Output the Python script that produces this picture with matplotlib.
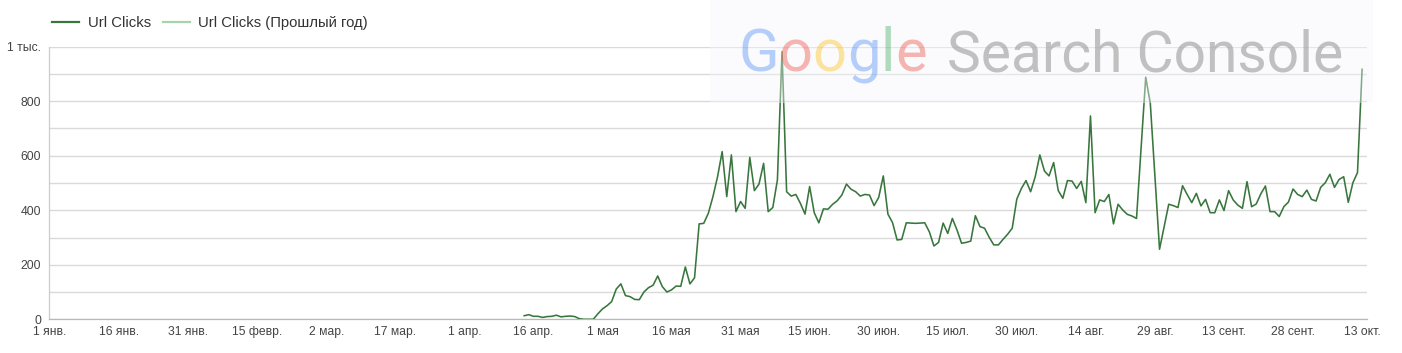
import numpy as np
import pandas as pd
import matplotlib
matplotlib.use("Agg")
import matplotlib.pyplot as plt
import matplotlib.dates as mdates
from matplotlib.patches import Rectangle
from matplotlib.transforms import IdentityTransform

plt.rcParams['font.family'] = ['Liberation Sans', 'DejaVu Sans']

# daily clicks, 14 Apr .. 13 Oct 2023
clicks = [
    13, 17, 11, 11, 7, 10, 11, 15, 9, 11, 12, 10, 2, 0, 0, 0,
    20, 38, 50, 65, 111, 130, 87, 83, 73, 72, 100, 116, 125, 159, 120, 100,
    108, 122, 121, 192, 130, 152, 350, 352, 389, 450, 523, 615, 450, 603, 395, 432,
    407, 594, 472, 496, 572, 395, 410, 511, 982, 468, 452, 458, 425, 386, 487, 391,
    354, 405, 404, 422, 435, 456, 496, 477, 468, 452, 458, 456, 417, 447, 526, 386,
    355, 291, 293, 354, 353, 352, 353, 354, 321, 269, 282, 353, 315, 370, 328, 279,
    282, 287, 380, 340, 334, 301, 273, 273, 293, 312, 334, 441, 480, 509, 468, 523,
    603, 544, 526, 575, 472, 444, 509, 507, 480, 506, 428, 746, 391, 438, 432, 458,
    350, 422, 401, 385, 379, 370, 630, 888, 792, 524, 257, 340, 422, 417, 410, 490,
    458, 428, 462, 416, 440, 391, 391, 438, 399, 472, 438, 419, 407, 505, 413, 423,
    460, 489, 395, 395, 377, 413, 430, 478, 458, 450, 474, 440, 434, 484, 501, 532,
    484, 513, 523, 429, 501, 538, 917,
]
dates = pd.date_range("2023-04-14", periods=len(clicks), freq="D")
prev_year = []  # no data for last year

tick_dates = pd.date_range("2023-01-01", "2023-10-13", freq="15D")
tick_labels = ["1 янв.", "16 янв.", "31 янв.", "15 февр.", "2 мар.", "17 мар.",
               "1 апр.", "16 апр.", "1 мая", "16 мая", "31 мая", "15 июн.",
               "30 июн.", "15 июл.", "30 июл.", "14 авг.", "29 авг.", "13 сент.",
               "28 сент.", "13 окт."]
y_ticks = [0, 200, 400, 600, 800, 1000]
y_labels = ["0", "200", "400", "600", "800", "1 тыс."]

W, H = 1402, 353
fig = plt.figure(figsize=(W / 100, H / 100), dpi=100)
ax = fig.add_axes([49.3 / W, (H - 319.3) / H, (1366.7 - 49.3) / W, (319.3 - 46.7) / H])

x = mdates.date2num(dates)
l1, = ax.plot(x, clicks, color='#38763d', lw=1.15, label='Url Clicks', zorder=3)
l2, = ax.plot(mdates.date2num(dates[:len(prev_year)]), prev_year, color='#a8d3aa',
              lw=1.15, label='Url Clicks (Прошлый год)', zorder=2)

x0 = mdates.date2num(pd.Timestamp("2023-01-01"))
ax.set_xlim(x0 - 0.15, x0 + 286.0)
ax.set_ylim(0, 1000)

ax.set_xticks(mdates.date2num(tick_dates))
ax.set_xticklabels(tick_labels)
ax.set_yticks(y_ticks)
ax.set_yticklabels(y_labels)
ax.set_yticks(np.arange(0, 1001, 100), minor=True)
ax.tick_params(axis='both', which='both', length=0, labelsize=8.7, labelcolor='#444444')
ax.tick_params(axis='x', pad=4.6)
ax.tick_params(axis='y', pad=6.0)

ax.grid(axis='y', which='both', color='#dadada', lw=1)
ax.set_axisbelow(True)
for s in ['top', 'right']:
    ax.spines[s].set_visible(False)
ax.spines['left'].set_color('#cccccc')
ax.spines['bottom'].set_color('#b8b8b8')
ax.spines['left'].set_linewidth(0.9)
ax.spines['bottom'].set_linewidth(0.9)

leg = fig.legend(handles=[l1, l2], loc='center left', bbox_to_anchor=(52 / W, 1 - 23.3 / H),
                 ncol=2, frameon=False, fontsize=10.7, handlelength=1.85, handletextpad=0.55,
                 columnspacing=0.8, borderpad=0, borderaxespad=0)
for t in leg.get_texts():
    t.set_color('#333333')
for h in leg.legend_handles:
    h.set_linewidth(1.6)

# watermark
fig.patches.append(Rectangle((710 / W, 1 - 103 / H), (1373 - 710) / W, 103 / H,
                             transform=fig.transFigure, facecolor='#f5f7fc', alpha=0.4,
                             edgecolor='none', zorder=5))
fig.canvas.draw()
r = fig.canvas.get_renderer()
g_colors = ['#4285f4', '#ea4335', '#fbbc05', '#4285f4', '#34a853', '#ea4335']
px = 738
for ch, col in zip("Google", g_colors):
    t = fig.text(px, H - 71, ch, transform=IdentityTransform(), color=col, alpha=0.38,
                 fontsize=43, family='Roboto', va='baseline', ha='left', zorder=6)
    px += t.get_window_extent(r).width
fig.text(947, H - 71, "Search Console", transform=IdentityTransform(), color='#9a9a9a',
         alpha=0.6, fontsize=41, family='Roboto', va='baseline', ha='left', zorder=6)

fig.savefig("out.png", dpi=100)
